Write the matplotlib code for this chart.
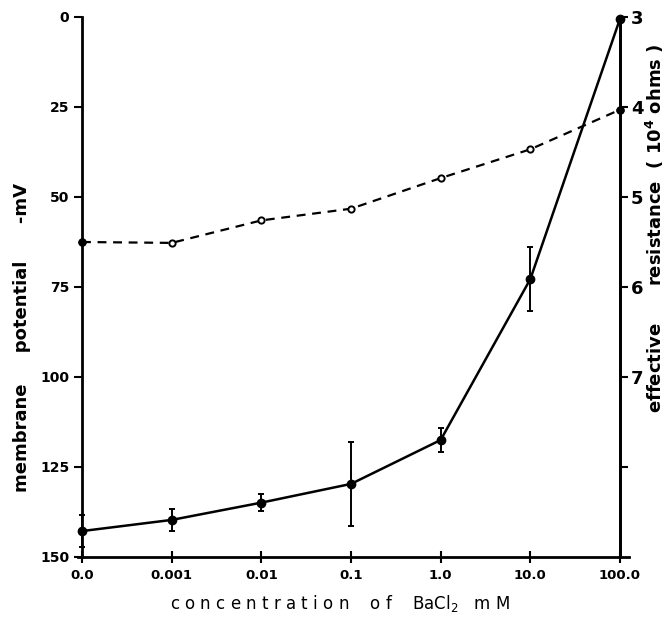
import matplotlib
matplotlib.use("Agg")
import matplotlib.pyplot as plt
import numpy as np

# concentration categories (mM), evenly spaced on the x axis
conc_labels = ["0.0", "0.001", "0.01", "0.1", "1.0", "10.0", "100.0"]
# membrane potential (-mV) with error bars
potential = [142.8, 139.7, 134.9, 129.7, 117.5, 72.8, 0.5]
potential_err = [4.5, 3.0, 2.4, 11.6, 3.3, 9.0, 0.0]
# effective resistance (10^4 ohms)
resistance = [5.50, 5.51, 5.26, 5.13, 4.79, 4.47, 4.03]

x = np.arange(len(conc_labels))

fig = plt.figure(figsize=(6.67, 6.25), dpi=100)
ax = fig.add_axes([82 / 667, 68 / 625, 538 / 667, 540 / 625])

ax.errorbar(x, potential, yerr=potential_err, color="black", lw=1.8,
            marker="o", ms=6, capsize=2.5, elinewidth=1.4, capthick=1.4,
            clip_on=False, zorder=3)

ax.set_xlim(0, 6)
ax.set_ylim(150, 0)
ax.set_yticks([0, 25, 50, 75, 100, 125, 150])
ax.set_yticklabels(["0", "25", "50", "75", "100", "125", "150"],
                   fontsize=10, fontweight="bold")
ax.set_xticks(x)
ax.set_xticklabels(conc_labels, fontsize=9.5, fontweight="bold")
ax.tick_params(axis="y", direction="out", length=6, width=1.5, pad=3)
ax.tick_params(axis="x", direction="inout", length=9, width=1.5, pad=4)
ax.spines["top"].set_visible(False)
for s in ["left", "bottom", "right"]:
    ax.spines[s].set_linewidth(2)
ax.spines["bottom"].set_bounds(-0.05, 6.1)

# right axis: resistance, 3 at top
ax2 = ax.twinx()
ax2.set_ylim(9, 3)
ax2.plot(x, resistance, color="black", lw=1.6, ls=(0, (4, 3)),
         marker="o", ms=4.5, mfc="white", mew=1.4, clip_on=False, zorder=3)
ends = [0, len(x) - 1]
ax2.plot(x[ends], [resistance[i] for i in ends], ls="none", marker="o",
         ms=5, color="black", clip_on=False, zorder=4)
ax2.set_yticks([3, 4, 5, 6, 7, 8])
ax2.set_yticklabels(["3", "4", "5", "6", "7", ""], fontsize=13,
                    fontweight="bold")
ax2.tick_params(axis="y", direction="out", length=6, width=1.5, pad=2)
ax2.spines["top"].set_visible(False)
ax2.spines["right"].set_linewidth(2)
ax2.spines["left"].set_visible(False)
ax2.spines["bottom"].set_visible(False)

fig.text(22 / 667, 1 - 338 / 625, "membrane     potential      -mV",
         rotation=90, ha="center", va="center", fontsize=13,
         fontweight="bold")
fig.text(655 / 667, 1 - 228 / 625,
         "effective      resistance  ( 10$^{\\mathbf{4}}$ ohms )",
         rotation=90, ha="center", va="center", fontsize=13,
         fontweight="bold")
fig.text(340 / 667, 1 - 604 / 625,
         "c o n c e n t r a t i o n    o f    BaCl$_2$   m M",
         ha="center", va="center", fontsize=12)

fig.savefig("out.png", dpi=100)
